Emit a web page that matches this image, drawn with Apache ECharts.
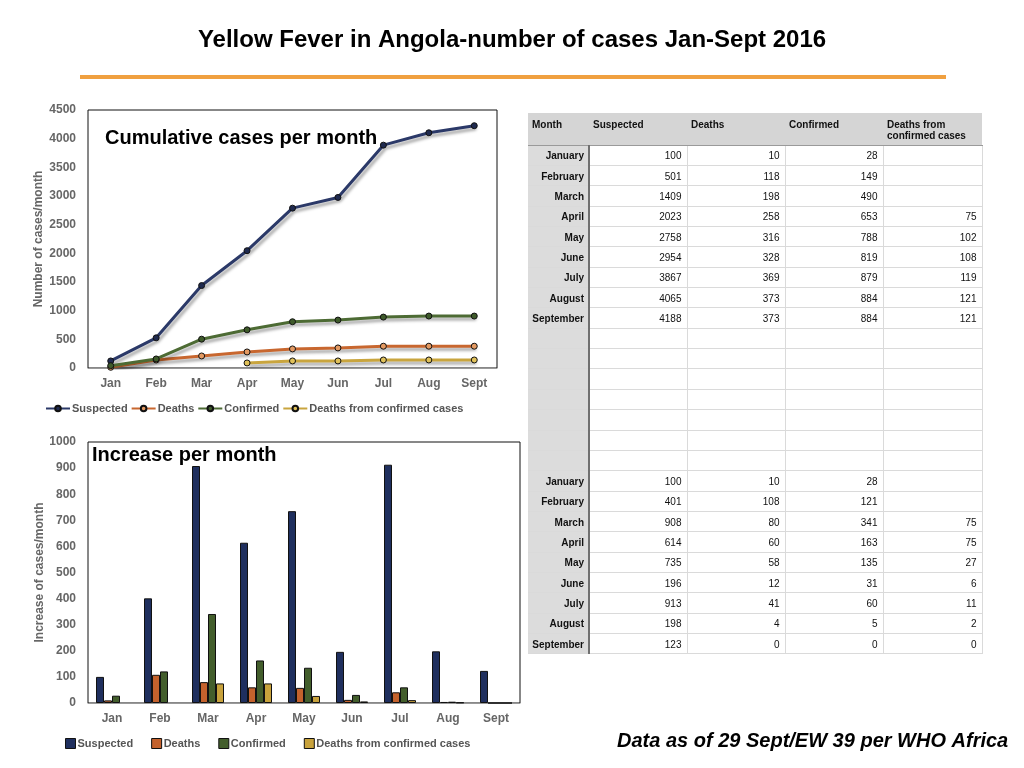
<!DOCTYPE html>
<html>
<head>
<meta charset="utf-8">
<title>Yellow Fever in Angola</title>
<script src="https://cdn.jsdelivr.net/npm/echarts@6/dist/echarts.min.js"></script>
<style>
  html, body { margin: 0; padding: 0; background: #fff; }
  #main { position: absolute; left: 0; top: 0; width: 1024px; height: 768px; }
  #tbl {
    position: absolute; left: 528px; top: 113px; width: 454px;
    border-collapse: collapse; table-layout: fixed;
    font-family: "Liberation Sans", Arial, sans-serif; font-size: 10px; color: #111;
  }
  #tbl th {
    background: #d5d5d5; height: 32px; padding: 6px 4px 0 4px; box-sizing: border-box;
    text-align: left; vertical-align: top; font-weight: bold; line-height: 11px;
    border-bottom: 1px solid #9a9a9a;
  }
  #tbl td {
    height: 20.36px; padding: 1px 5px 0 0; box-sizing: border-box; text-align: right;
    border: 1px solid #dadada;
  }
  #tbl td.m {
    background: #dcdcdc; font-weight: bold; padding-right: 4px;
    border-right: 2px solid #707070; border-left: none;
  }
</style>
</head>
<body>
<div id="main"></div>
<table id="tbl"></table>
<script>
// ---- data ----
var months = ['Jan', 'Feb', 'Mar', 'Apr', 'May', 'Jun', 'Jul', 'Aug', 'Sept'];
var monthNames = ['January', 'February', 'March', 'April', 'May', 'June', 'July', 'August', 'September'];
var seriesNames = ['Suspected', 'Deaths', 'Confirmed', 'Deaths from confirmed cases'];
var tableHeader = ['Month', 'Suspected', 'Deaths', 'Confirmed', 'Deaths from confirmed cases'];

// cumulative (table)
var cumSuspected = [100, 501, 1409, 2023, 2758, 2954, 3867, 4065, 4188];
var cumDeaths = [10, 118, 198, 258, 316, 328, 369, 373, 373];
var cumConfirmed = [28, 149, 490, 653, 788, 819, 879, 884, 884];
var cumDeathsConfirmed = [null, null, null, 75, 102, 108, 119, 121, 121];

// increase per month (table + bars)
var incSuspected = [100, 401, 908, 614, 735, 196, 913, 198, 123];
var incDeaths = [10, 108, 80, 60, 58, 12, 41, 4, 0];
var incConfirmed = [28, 121, 341, 163, 135, 31, 60, 5, 0];
var incDeathsConfirmed = [null, null, 75, 75, 27, 6, 11, 2, 0];

// cumulative line values as drawn in the chart
var lineSuspected = [123, 526, 1438, 2046, 2788, 2975, 3887, 4103, 4226];
var lineDeaths = [12, 140, 210, 280, 333, 350, 380, 380, 380];
var lineConfirmed = [41, 158, 503, 666, 807, 836, 888, 906, 906];
var lineDeathsConfirmed = [null, null, null, 88, 123, 123, 140, 140, 140];

var emptyRows = 7;

// ---- table ----
var tbl = document.getElementById('tbl');
var html = '<colgroup><col style="width:61px"><col style="width:98px"><col style="width:98px"><col style="width:98px"><col style="width:99px"></colgroup>';
html += '<tr>' + tableHeader.map(function (h) { return '<th>' + h + '</th>'; }).join('') + '</tr>';
function cell(v) { return '<td>' + (v == null ? '' : v) + '</td>'; }
monthNames.forEach(function (m, i) {
  html += '<tr><td class="m">' + m + '</td>' + cell(cumSuspected[i]) + cell(cumDeaths[i]) + cell(cumConfirmed[i]) + cell(cumDeathsConfirmed[i]) + '</tr>';
});
for (var k = 0; k < emptyRows; k++) {
  html += '<tr><td class="m"></td><td></td><td></td><td></td><td></td></tr>';
}
monthNames.forEach(function (m, i) {
  html += '<tr><td class="m">' + m + '</td>' + cell(incSuspected[i]) + cell(incDeaths[i]) + cell(incConfirmed[i]) + cell(incDeathsConfirmed[i]) + '</tr>';
});
tbl.innerHTML = html;

// ---- chart ----
var lineColors = ['#2b3968', '#c8672f', '#4d6b34', '#c9a53e'];
var markerColors = ['#1f2a4f', '#e49a62', '#3e5a2a', '#e0c15a'];
var barColors = ['#1f2f5e', '#c4622d', '#435e2c', '#c8a23c'];
var axisText = { color: '#666', fontWeight: 'bold', fontSize: 12, fontFamily: 'Liberation Sans' };
var plain = function (v) { return String(v); };

var chart = echarts.init(document.getElementById('main'));

var lineData = [lineSuspected, lineDeaths, lineConfirmed, lineDeathsConfirmed];
var barData = [incSuspected, incDeaths, incConfirmed, incDeathsConfirmed];

var series = [];
seriesNames.forEach(function (n, i) {
  series.push({
    name: n, type: 'line', xAxisIndex: 0, yAxisIndex: 0, data: lineData[i],
    symbol: 'circle', symbolSize: 6,
    lineStyle: { color: lineColors[i], width: 3, shadowColor: 'rgba(0,0,0,0.35)', shadowBlur: 3, shadowOffsetX: 2, shadowOffsetY: 3 },
    itemStyle: { color: markerColors[i], borderColor: '#111', borderWidth: 1 }
  });
});
seriesNames.forEach(function (n, i) {
  series.push({
    name: n, type: 'bar', xAxisIndex: 1, yAxisIndex: 1, data: barData[i],
    barWidth: 8, barGap: '0%',
    itemStyle: { color: barColors[i], borderColor: '#111', borderWidth: 1 }
  });
});

chart.setOption({
  animation: false,
  textStyle: { fontFamily: 'Liberation Sans' },
  title: [
    { text: 'Yellow Fever in Angola-number of cases Jan-Sept 2016', left: 'center', top: 28, padding: 0,
      textStyle: { fontSize: 24, fontWeight: 'bold', color: '#000' } },
    { text: 'Cumulative cases per month', left: 105, top: 128, padding: 0,
      textStyle: { fontSize: 20, fontWeight: 'bold', color: '#000' } },
    { text: 'Increase per month', left: 92, top: 445, padding: 0,
      textStyle: { fontSize: 20, fontWeight: 'bold', color: '#000' } },
    { text: 'Data as of 29 Sept/EW 39 per WHO Africa', left: 617, top: 731, padding: 0,
      textStyle: { fontSize: 20, fontWeight: 'bold', fontStyle: 'italic', color: '#000' } }
  ],
  graphic: [
    { type: 'rect', shape: { x: 80, y: 75, width: 866, height: 4 }, style: { fill: '#f0a040' } }
  ],
  grid: [
    { left: 88, top: 110, width: 409, height: 258, show: true, borderColor: '#111', borderWidth: 1 },
    { left: 88, top: 442, width: 432, height: 261, show: true, borderColor: '#111', borderWidth: 1 }
  ],
  legend: [
    { left: 45, top: 403, itemWidth: 24, itemHeight: 7, itemGap: 3, padding: 0,
      textStyle: { color: '#555', fontWeight: 'bold', fontSize: 11, padding: [0, 0, 0, -3] },
      data: seriesNames },
    { left: 65, top: 738, icon: 'rect', itemWidth: 10, itemHeight: 10, itemGap: 18, padding: 0,
      textStyle: { color: '#555', fontWeight: 'bold', fontSize: 11, padding: [0, 0, 0, -3] },
      data: seriesNames.map(function (n, i) {
        return { name: n, itemStyle: { color: barColors[i], borderColor: '#111', borderWidth: 1 } };
      }) }
  ],
  xAxis: [
    { type: 'category', gridIndex: 0, data: months, boundaryGap: true,
      axisTick: { show: false }, axisLine: { lineStyle: { color: '#999' } },
      axisLabel: { margin: 10, fontSize: 12, color: '#666', fontWeight: 'bold' } },
    { type: 'category', gridIndex: 1, data: months, boundaryGap: true,
      axisTick: { show: false }, axisLine: { lineStyle: { color: '#999' } },
      axisLabel: { margin: 10, fontSize: 12, color: '#666', fontWeight: 'bold' } }
  ],
  yAxis: [
    { type: 'value', gridIndex: 0, min: 0, max: 4500, interval: 500,
      splitLine: { show: false }, axisLine: { show: false }, axisTick: { show: false },
      axisLabel: Object.assign({ margin: 12, formatter: plain }, axisText),
      name: 'Number of cases/month', nameLocation: 'middle', nameGap: 43, nameRotate: 90,
      nameTextStyle: axisText },
    { type: 'value', gridIndex: 1, min: 0, max: 1000, interval: 100,
      splitLine: { show: false }, axisLine: { show: false }, axisTick: { show: false },
      axisLabel: Object.assign({ margin: 12, formatter: plain }, axisText),
      name: 'Increase of cases/month', nameLocation: 'middle', nameGap: 41, nameRotate: 90,
      nameTextStyle: axisText }
  ],
  series: series
});
</script>
</body>
</html>
